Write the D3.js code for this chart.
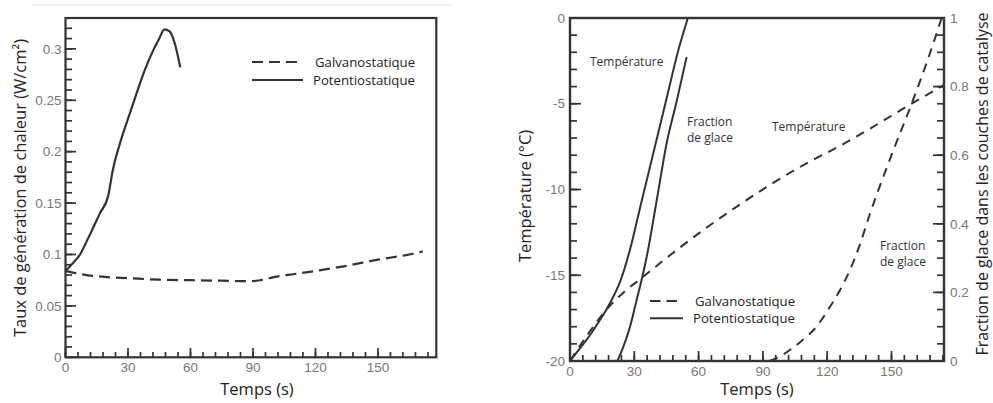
<!DOCTYPE html>
<html><head><meta charset="utf-8">
<script src="https://cdn.jsdelivr.net/npm/d3@7"></script>
<style>
body{margin:0;background:#fff;}
svg{display:block;}
</style></head><body>
<svg id="c" width="993" height="403"></svg>
<script>
// ---------- data ----------
const seriesNames = ["Galvanostatique", "Potentiostatique"];
// Left chart: heat generation rate (W/cm²) vs time (s)
const leftXTicks = [0, 30, 60, 90, 120, 150];
const leftYTicks = [0, 0.05, 0.1, 0.15, 0.2, 0.25, 0.3];
const heatGalv = [[0,0.084],[10,0.080],[20,0.078],[30,0.077],[45,0.0755],[60,0.075],[75,0.0745],[88,0.074],[95,0.0755],[100,0.078],[110,0.081],[120,0.084],[135,0.089],[150,0.095],[165,0.1],[171.5,0.103]];
const heatPot = [[0,0.084],[3.5,0.0915],[7,0.1],[9.5,0.11],[12,0.1205],[16.5,0.14],[20.5,0.157],[21.5,0.168],[22.5,0.18],[26,0.207],[30,0.232],[34,0.256],[38,0.279],[42,0.298],[45,0.31],[47.5,0.319],[50,0.317],[52.5,0.305],[55.1,0.282]];
// Right chart: temperature (°C) and ice fraction vs time (s)
const rightXTicks = [0, 30, 60, 90, 120, 150];
const tempTicks = [0, -5, -10, -15, -20];
const fracTicks = [0, 0.2, 0.4, 0.6, 0.8, 1];
const tempPot = [[0,-20],[5,-19.2],[9.3,-18.5],[13,-17.8],[17,-17],[20,-16.3],[23.3,-15.4],[28,-13.5],[33,-10.9],[40,-7.3],[46,-4.2],[50.5,-1.9],[55,0]];
const fracPot = [[22.1,0],[23.5,0.02],[24.9,0.042],[28,0.1],[31.1,0.178],[33.4,0.236],[35.8,0.304],[40.5,0.47],[45.1,0.635],[49.8,0.758],[54.4,0.886]];
const tempGalv = [[0,-20],[8,-18.5],[17,-17.0],[25,-16.0],[33,-15.2],[48,-13.7],[64,-12.2],[79,-10.9],[95,-9.6],[110,-8.5],[126,-7.45],[140,-6.45],[150,-5.7],[160,-4.95],[174.5,-3.9]];
const fracGalv = [[93,0],[97,0.01],[102.6,0.032],[108,0.058],[115,0.1],[121,0.155],[126,0.207],[130.6,0.265],[135,0.335],[140,0.43],[150,0.6],[160,0.76],[167,0.88],[173.4,1.0]];

// ---------- drawing ----------
const svg = d3.select("#c");
const ink = "#333";
const tickFont = "Liberation Sans, Arial, sans-serif";
const textFont = "Open Sans, sans-serif";

svg.append("line").attr("x1",33).attr("x2",452).attr("y1",5).attr("y2",5)
  .attr("stroke","#eeeeee").attr("stroke-width",1.5);

function frame(x0, y0, x1, y1, sw) {
  svg.append("rect").attr("x", x0).attr("y", y0).attr("width", x1 - x0).attr("height", y1 - y0)
    .attr("fill", "none").attr("stroke", ink).attr("stroke-width", sw);
}
function vTicks(scale, vals, y, len) {
  svg.append("g").selectAll("line").data(vals).join("line")
    .attr("x1", d => scale(d)).attr("x2", d => scale(d)).attr("y1", y).attr("y2", y - len)
    .attr("stroke", ink).attr("stroke-width", 1.7);
}
function hTicks(scale, vals, x, len) {
  svg.append("g").selectAll("line").data(vals).join("line")
    .attr("y1", d => scale(d)).attr("y2", d => scale(d)).attr("x1", x).attr("x2", x + len)
    .attr("stroke", ink).attr("stroke-width", 1.7);
}
function xLabels(scale, vals, baseline) {
  svg.append("g").selectAll("text").data(vals).join("text")
    .attr("x", d => scale(d)).attr("y", baseline).attr("text-anchor", "middle")
    .attr("font-family", tickFont).attr("font-size", 13.5).attr("fill", "#777").text(d => String(d));
}
function yLabels(scale, vals, x, anchor) {
  svg.append("g").selectAll("text").data(vals).join("text")
    .attr("x", x).attr("y", d => scale(d)).attr("dy", "0.35em").attr("text-anchor", anchor)
    .attr("font-family", tickFont).attr("font-size", 13.5).attr("fill", "#777").text(d => String(d));
}
function txt(x, y, t, size, anchor, rot) {
  const e = svg.append("text").attr("font-family", textFont).attr("font-size", size)
    .attr("fill", "#222").attr("text-anchor", anchor || "start").text(t);
  if (rot) e.attr("transform", `translate(${x},${y}) rotate(-90)`);
  else e.attr("x", x).attr("y", y);
  return e;
}

// ===== LEFT CHART =====
const xL = d3.scaleLinear([0, 178], [65.5, 436.3]);
const yL = d3.scaleLinear([0, 0.33], [357.3, 18]);

frame(xL(0), yL(0.33), xL(178), yL(0), 2.2);
vTicks(xL, d3.range(0, 178, 6), 357, 5);
vTicks(xL, leftXTicks, 357, 9);
hTicks(yL, d3.range(0, 0.325, 0.01), 66, 6);
hTicks(yL, leftYTicks, 66, 10);
xLabels(xL, leftXTicks, 372);
yLabels(yL, leftYTicks, xL(0) - 4, "end");

const lineL = d3.line().x(d => xL(d[0])).y(d => yL(d[1])).curve(d3.curveMonotoneX);
svg.append("path").attr("d", lineL(heatGalv)).attr("fill","none").attr("stroke",ink)
  .attr("stroke-width",2.2).attr("stroke-dasharray","11,6");
svg.append("path").attr("d", lineL(heatPot)).attr("fill","none").attr("stroke",ink)
  .attr("stroke-width",2.2);

svg.append("line").attr("x1",252).attr("x2",297).attr("y1",62).attr("y2",62)
  .attr("stroke",ink).attr("stroke-width",2).attr("stroke-dasharray","11,6");
svg.append("line").attr("x1",252).attr("x2",303).attr("y1",80).attr("y2",80)
  .attr("stroke",ink).attr("stroke-width",2);
txt(315, 62, seriesNames[0], 13.2).attr("dy", "0.35em");
txt(313, 80, seriesNames[1], 13.2).attr("dy", "0.35em");

txt(257, 395, "Temps (s)", 16.5, "middle");
txt(26, 188, "Taux de génération de chaleur (W/cm²)", 16.5, "middle", true);

// ===== RIGHT CHART =====
const xR = d3.scaleLinear([0, 174.5], [570, 944]);
const yT = d3.scaleLinear([-20, 0], [361, 18]);
const yF = d3.scaleLinear([0, 1], [361, 18]);

frame(xR(0), yT(0), xR(174.5), yT(-20), 2.4);
vTicks(xR, d3.range(0, 174.5, 6), 360, 5);
vTicks(xR, rightXTicks, 360, 9);
hTicks(yT, d3.range(-20, 0.5, 1), 571, 6);
hTicks(yT, tempTicks, 571, 10);
hTicks(yF, d3.range(0, 1.01, 0.05), 943, -6);
hTicks(yF, fracTicks, 943, -10);
xLabels(xR, rightXTicks, 375.5);
yLabels(yT, tempTicks, xR(0) - 5, "end");
yLabels(yF, fracTicks, xR(174.5) + 6, "start");

const lineT = d3.line().x(d => xR(d[0])).y(d => yT(d[1])).curve(d3.curveMonotoneX);
const lineF = d3.line().x(d => xR(d[0])).y(d => yF(d[1])).curve(d3.curveMonotoneX);
svg.append("path").attr("d", lineT(tempPot)).attr("fill","none").attr("stroke",ink).attr("stroke-width",2);
svg.append("path").attr("d", lineF(fracPot)).attr("fill","none").attr("stroke",ink).attr("stroke-width",2);
svg.append("path").attr("d", lineT(tempGalv)).attr("fill","none").attr("stroke",ink)
  .attr("stroke-width",2).attr("stroke-dasharray","9,7");
svg.append("path").attr("d", lineF(fracGalv)).attr("fill","none").attr("stroke",ink)
  .attr("stroke-width",2).attr("stroke-dasharray","9,7");

[[590, 62, "Température"], [687, 121.7, "Fraction"], [687, 137.3, "de glace"],
 [772, 127, "Température"], [880, 246, "Fraction"], [880, 262, "de glace"]]
  .forEach(a => txt(a[0], a[1], a[2], 12).attr("dy", "0.35em").attr("fill", "#333"));

svg.append("line").attr("x1",650).attr("x2",677).attr("y1",301).attr("y2",301)
  .attr("stroke",ink).attr("stroke-width",2).attr("stroke-dasharray","10.5,6");
svg.append("line").attr("x1",650).attr("x2",683).attr("y1",318.3).attr("y2",318.3)
  .attr("stroke",ink).attr("stroke-width",2);
txt(695, 301, seriesNames[0], 13.2).attr("dy", "0.35em");
txt(693, 318.3, seriesNames[1], 13.2).attr("dy", "0.35em");

txt(757, 395, "Temps (s)", 16.5, "middle");
txt(531, 196, "Température (°C)", 16.5, "middle", true);
txt(988, 184, "Fraction de glace dans les couches de catalyse", 16, "middle", true);
</script>
</body></html>
